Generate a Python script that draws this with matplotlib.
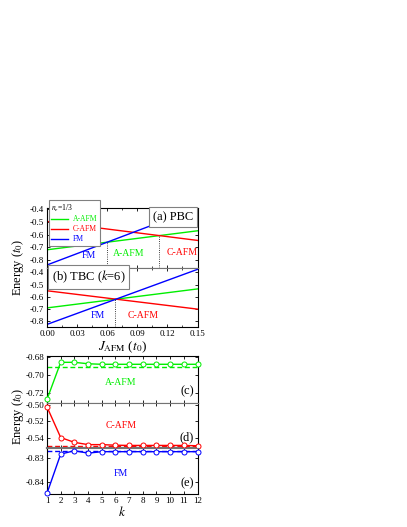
import numpy as np
import matplotlib.pyplot as plt
from matplotlib.ticker import MultipleLocator, FormatStrFormatter

plt.rcParams['font.family'] = ['Liberation Serif', 'DejaVu Serif']
plt.rcParams['mathtext.fontset'] = 'stix'
plt.rcParams['axes.unicode_minus'] = False

GREEN = '#00ee00'
RED = '#ff0000'
BLUE = '#0000ff'

# (a) PBC and (b) TBC (k=6): energy vs J_AFM, straight lines given by end points
J = [0.0, 0.15]
pbc_fm = [-0.84, -0.39]
pbc_aafm = [-0.72, -0.57]
pbc_cafm = [-0.496, -0.646]
tbc_fm = [-0.825, -0.375]
tbc_aafm = [-0.69, -0.535]
tbc_cafm = [-0.55, -0.70]
pbc_bounds = [0.06, 0.112]
tbc_bounds = [0.068]

# (c)-(e): energy vs k
k = [1, 2, 3, 4, 5, 6, 7, 8, 9, 10, 11, 12]
e_aafm = [-0.727, -0.6856, -0.6856, -0.6872, -0.6878, -0.6878,
          -0.6878, -0.6878, -0.6878, -0.6878, -0.6878, -0.6878]
e_cafm = [-0.502, -0.540, -0.546, -0.5488, -0.5488, -0.5495,
          -0.5498, -0.5498, -0.5498, -0.5498, -0.5498, -0.5502]
e_fm = [-0.8445, -0.8285, -0.8271, -0.8281, -0.8275, -0.8275,
        -0.8275, -0.8275, -0.8275, -0.8275, -0.8275, -0.8275]
lim_aafm = -0.6911
lim_cafm = -0.5505
lim_fm = -0.8274

fig = plt.figure(figsize=(4.07, 5.27), dpi=100)
L, W = 0.1155, 0.3698
ax_a = fig.add_axes([L, 0.4924, W, 0.1129])
ax_b = fig.add_axes([L, 0.3786, W, 0.1138])
ax_c = fig.add_axes([L, 0.2362, W, 0.0892])
ax_d = fig.add_axes([L, 0.1499, W, 0.0863])
ax_e = fig.add_axes([L, 0.0626, W, 0.0873])


def style(ax):
    ax.tick_params(direction='in', top=True, right=True, labelsize=6.5,
                   length=2.5, width=0.6, pad=2)
    ax.tick_params(which='minor', direction='in', top=True, right=True,
                   length=1.5, width=0.5)
    for s in ax.spines.values():
        s.set_linewidth(0.8)


def phase_panel(ax, fm, aafm, cafm, bounds, ylim):
    ax.plot(J, aafm, color=GREEN, lw=1.0, label='A-AFM')
    ax.plot(J, cafm, color=RED, lw=1.0, label='C-AFM')
    ax.plot(J, fm, color=BLUE, lw=1.0, label='FM')
    for jb in bounds:
        eb = min(np.interp(jb, J, fm), np.interp(jb, J, aafm), np.interp(jb, J, cafm))
        ax.plot([jb, jb], [ylim[0], eb], color='k', ls=':', lw=0.6)
    ax.set_xlim(0, 0.15)
    ax.set_ylim(*ylim)
    ax.xaxis.set_major_locator(MultipleLocator(0.03))
    ax.xaxis.set_minor_locator(MultipleLocator(0.015))
    ax.yaxis.set_major_locator(MultipleLocator(0.1))
    ax.xaxis.set_major_formatter(FormatStrFormatter('%.2f'))
    ax.yaxis.set_major_formatter(FormatStrFormatter('%.1f'))
    style(ax)


phase_panel(ax_a, pbc_fm, pbc_aafm, pbc_cafm, pbc_bounds, (-0.86, -0.39))
phase_panel(ax_b, tbc_fm, tbc_aafm, tbc_cafm, tbc_bounds, (-0.85, -0.36))
ax_a.tick_params(labelbottom=False)
ax_a.spines['bottom'].set_color('0.45')
ax_b.spines['top'].set_color('0.45')

leg = ax_a.legend(loc='upper left', bbox_to_anchor=(0.01, 1.14), fontsize=5.5,
                  title=r'$n_e$=1/3', title_fontsize=5.5, fancybox=False,
                  edgecolor='0.5', framealpha=1, handlelength=2.2,
                  borderpad=0.35, labelspacing=0.25, handletextpad=0.6,
                  borderaxespad=0)
leg._legend_box.align = 'left'
leg.get_frame().set_linewidth(0.8)
for t, c in zip(leg.get_texts(), [GREEN, RED, BLUE]):
    t.set_color(c)
leg.set_zorder(5)

box = dict(boxstyle='square,pad=0.3', fc='white', ec='0.5', lw=0.8)
ax_a.text(0.97, 0.85, '(a) PBC', transform=ax_a.transAxes, ha='right',
          va='center', fontsize=9, bbox=box, zorder=6)
ax_b.text(0.03, 0.84, r'(b) TBC ($k$=6)', transform=ax_b.transAxes,
          ha='left', va='center', fontsize=9, bbox=box, zorder=6)

ax_a.text(0.28, 0.2, 'FM', color=BLUE, transform=ax_a.transAxes,
          ha='center', va='center', fontsize=7)
ax_a.text(0.54, 0.24, 'A-AFM', color=GREEN, transform=ax_a.transAxes,
          ha='center', va='center', fontsize=7)
ax_a.text(0.895, 0.25, 'C-AFM', color=RED, transform=ax_a.transAxes,
          ha='center', va='center', fontsize=7)
ax_b.text(0.335, 0.2, 'FM', color=BLUE, transform=ax_b.transAxes,
          ha='center', va='center', fontsize=7)
ax_b.text(0.64, 0.2, 'C-AFM', color=RED, transform=ax_b.transAxes,
          ha='center', va='center', fontsize=7)
ax_b.set_xlabel(r'$J_{\rm AFM}$ ($t_0$)', fontsize=9.5, labelpad=1)

fig.text(0.043, 0.492, r'Energy ($t_0$)', rotation=90, ha='center',
         va='center', fontsize=9)


def k_panel(ax, e, lim, color, ylim, ticks, name, tag, ny):
    ax.axhline(lim, color=color, ls='--', lw=1.0, dashes=(3.5, 2))
    ax.plot(k, e, color=color, lw=1.0, marker='o', ms=3.6, mfc='white',
            mec=color, mew=0.7, clip_on=False, zorder=4)
    ax.set_xlim(1, 12)
    ax.set_ylim(*ylim)
    ax.set_xticks(k)
    ax.set_yticks(ticks)
    ax.yaxis.set_major_formatter(FormatStrFormatter('%.2f'))
    style(ax)
    ax.text(0.49, ny, name, color=color, transform=ax.transAxes,
            ha='center', va='center', fontsize=7)
    ax.text(0.93, 0.23, tag, transform=ax.transAxes, ha='center',
            va='center', fontsize=9)


k_panel(ax_c, e_aafm, lim_aafm, GREEN, (-0.7305, -0.678),
        [-0.72, -0.70, -0.68], 'A-AFM', '(c)', 0.43)
k_panel(ax_d, e_cafm, lim_cafm, RED, (-0.553, -0.4965),
        [-0.54, -0.52, -0.50], 'C-AFM', '(d)', 0.5)
k_panel(ax_e, e_fm, lim_fm, BLUE, (-0.8448, -0.826),
        [-0.84, -0.83], 'FM', '(e)', 0.45)
ax_c.tick_params(labelbottom=False)
ax_d.tick_params(labelbottom=False)
for top, bot in [(ax_c, ax_d), (ax_d, ax_e)]:
    top.spines['bottom'].set_color('0.45')
    bot.spines['top'].set_color('0.45')
ax_d.spines['bottom'].set_linewidth(1.6)
ax_e.set_xlabel(r'$k$', fontsize=9.5, labelpad=0)

fig.text(0.043, 0.21, r'Energy ($t_0$)', rotation=90, ha='center',
         va='center', fontsize=9)

fig.savefig('out.png', dpi=100)
